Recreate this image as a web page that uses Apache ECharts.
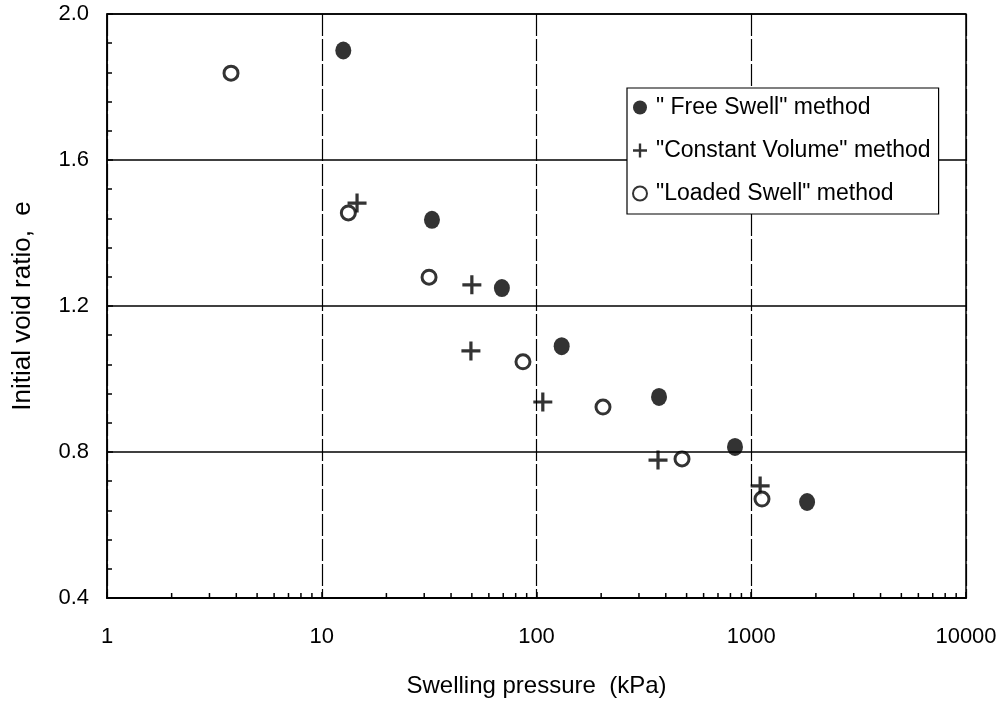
<!DOCTYPE html>
<html>
<head>
<meta charset="utf-8">
<script src="https://cdn.jsdelivr.net/npm/echarts@6/dist/echarts.min.js"></script>
<style>
html,body{margin:0;padding:0;background:#fff;}
#chart{width:1003px;height:707px;}
</style>
</head>
<body>
<div id="chart"></div>
<script>
// Data
const freeSwellX = [12.6, 32.6, 69, 131, 372, 840, 1820];
const freeSwellY = [1.90, 1.436, 1.249, 1.09, 0.951, 0.814, 0.663];

const constVolX = [14.6, 50, 49.5, 107, 368, 1100];
const constVolY = [1.482, 1.258, 1.077, 0.937, 0.778, 0.707];

const loadedSwellX = [3.78, 13.3, 31.6, 86.5, 204, 476, 1122];
const loadedSwellY = [1.838, 1.455, 1.279, 1.047, 0.923, 0.781, 0.671];

const seriesNames = ['" Free Swell" method', '"Constant Volume" method', '"Loaded Swell" method'];
const xTickLabels = ['1', '10', '100', '1000', '10000'];
const yTickLabels = ['0.4', '0.8', '1.2', '1.6', '2.0'];
const xTitle = 'Swelling pressure  (kPa)';
const yTitle = 'Initial void ratio,  e';

const minorTickValues = [];
for (let d = 1; d < 10000; d *= 10) {
  for (let k = 2; k <= 9; k++) minorTickValues.push(d * k);
}

const zip = (xs, ys) => xs.map((x, i) => [x, ys[i]]);
const FONT = '"Liberation Sans", Arial, sans-serif';
const plusPath = 'path://M8.3,0h3.4v8.3h8.3v3.4h-8.3v8.3h-3.4v-8.3h-8.3v-3.4h8.3z';

const chart = echarts.init(document.getElementById('chart'), null, {renderer: 'canvas'});
chart.setOption({
  animation: false,
  backgroundColor: '#fff',
  textStyle: {fontFamily: FONT, color: '#000'},
  grid: {left: 107, right: 37, top: 14, bottom: 109, show: true, borderColor: '#000', borderWidth: 1.5},
  legend: {
    orient: 'vertical',
    left: 627, top: 88,
    padding: [8, 8, 9, 5],
    itemGap: 20,
    itemWidth: 14, itemHeight: 15,
    backgroundColor: '#fff',
    borderColor: '#000', borderWidth: 1.2,
    textStyle: {fontFamily: FONT, fontSize: 23, color: '#000', padding: [0, 0, 0, 4]},
    data: seriesNames
  },
  xAxis: {
    type: 'log', logBase: 10, min: 1, max: 10000,
    name: xTitle, nameLocation: 'middle', nameGap: 76,
    nameTextStyle: {fontFamily: FONT, fontSize: 24, color: '#000'},
    axisLine: {show: true, lineStyle: {color: '#000', width: 2}},
    axisTick: {show: true, inside: true, length: 6, lineStyle: {color: '#000', width: 1.5}},
    axisLabel: {margin: 28, fontFamily: FONT, fontSize: 22, color: '#000',
      formatter: v => { const i = Math.round(Math.log10(v)); return xTickLabels[i] || String(Math.round(v)); }},
    splitLine: {show: true, lineStyle: {color: '#000', width: 1.2, type: [22, 3]}}
  },
  yAxis: {
    type: 'value', min: 0.4, max: 2.0, interval: 0.4,
    name: yTitle, nameLocation: 'middle', nameGap: 71,
    nameTextStyle: {fontFamily: FONT, fontSize: 26, color: '#000'},
    axisLine: {show: true, lineStyle: {color: '#000', width: 1.5}},
    axisTick: {show: true, inside: true, length: 6, lineStyle: {color: '#000', width: 1.5}},
    minorTick: {show: true, splitNumber: 5, length: 5, lineStyle: {color: '#000', width: 1.5}},
    axisLabel: {margin: 18, fontFamily: FONT, fontSize: 22, color: '#000',
      formatter: v => { const i = Math.round((v - 0.4) / 0.4); return yTickLabels[i] || v.toFixed(1); }},
    splitLine: {show: true, lineStyle: {color: '#000', width: 1.5}}
  },
  series: [
    {
      name: 'minor-x-ticks', type: 'custom', silent: true, z: 1,
      data: minorTickValues.map(v => [v, 0.4]),
      renderItem: (params, api) => {
        const p = api.coord([api.value(0), api.value(1)]);
        return {type: 'line', shape: {x1: p[0], y1: p[1], x2: p[0], y2: p[1] - 5},
          style: {stroke: '#000', lineWidth: 1.5}};
      }
    },
    {
      name: seriesNames[0], type: 'scatter', z: 3,
      data: zip(freeSwellX, freeSwellY),
      symbol: 'circle', symbolSize: [16, 18],
      itemStyle: {color: '#000'}
    },
    {
      name: seriesNames[1], type: 'scatter', z: 3,
      data: zip(constVolX, constVolY),
      symbol: plusPath, symbolSize: 19,
      itemStyle: {color: '#000'}
    },
    {
      name: seriesNames[2], type: 'scatter', z: 3,
      data: zip(loadedSwellX, loadedSwellY),
      symbol: 'circle', symbolSize: 14,
      itemStyle: {color: '#fff', borderColor: '#000', borderWidth: 3}
    }
  ]
});
</script>
</body>
</html>
